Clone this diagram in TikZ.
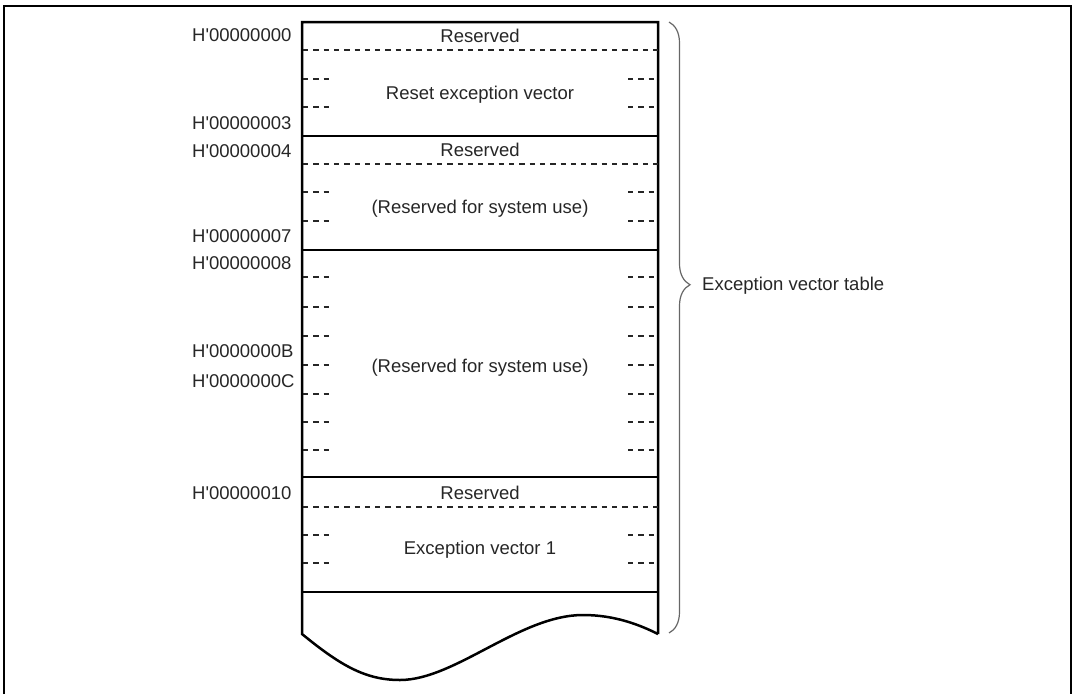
\documentclass[tikz,border=0pt]{standalone}
\usepackage{fontspec}
\setmainfont{Liberation Sans}[Ligatures=TeXOff]
\usetikzlibrary{decorations.pathreplacing}
\begin{document}
\begin{tikzpicture}[x=1pt,y=-1pt,
  txt/.style={font=\fontsize{18.5}{22}\selectfont, text=black!85, inner sep=0pt, text height=13pt, text depth=0pt},
  addr/.style={txt, anchor=west},
  cell/.style={txt, anchor=center},
  boxline/.style={line width=2.5pt, line join=miter, line cap=rect},
  fulldash/.style={line width=1.2pt, black!85, dash pattern=on 5.3pt off 5pt},
  bracestyle/.style={line width=1.2pt, black!60, decorate, decoration={brace, amplitude=21pt, aspect=0.43}}
]
\useasboundingbox (0,0) rectangle (1074,694);
% outer frame
\draw[line width=2pt] (3.5,694) -- (3.5,5.5) -- (1070.5,5.5) -- (1070.5,694);

% memory box outline with torn bottom
\draw[boxline, line cap=butt] (658,634) -- (658,22) -- (302,22) -- (302,634)
  .. controls (340,665) and (365,680) .. (400,680)
  .. controls (455,680) and (520,615) .. (583,615)
  .. controls (615,615) and (640,625) .. (658,634);

% solid separators
\foreach \y in {136,250,477,592}
  \draw[boxline, line cap=butt] (302,\y) -- (658,\y);

% full dashed separators
\foreach \y in {50,164,507}
  \draw[fulldash] (303,\y) -- (658,\y);

% short dashes at both sides
\foreach \y in {79,107,192,221,277,307,336,365,394,422,450,535,563} {
  \draw[fulldash] (303,\y) -- (330,\y);
  \draw[fulldash] (628,\y) -- (657,\y);
}

% cell texts
\node[cell] (r0) at (480,36) {Reserved};
\node[cell] (rv) at (480,93) {Reset exception vector};
\node[cell] (r1) at (480,150) {Reserved};
\node[cell] (s1) at (480,207) {(Reserved for system use)};
\node[cell] (s2) at (480,366) {(Reserved for system use)};
\node[cell] (r2) at (480,493) {Reserved};
\node[cell] (ev) at (480,548) {Exception vector 1};

% addresses
\node[addr] (a0) at (192,35) {H'00000000};
\node[addr] (a3) at (192,123) {H'00000003};
\node[addr] (a4) at (192,151) {H'00000004};
\node[addr] (a7) at (192,236) {H'00000007};
\node[addr] (a8) at (192,263) {H'00000008};
\node[addr] (aB) at (192,351) {H'0000000B};
\node[addr] (aC) at (192,381) {H'0000000C};
\node[addr] (a10) at (192,493) {H'00000010};

% brace
\coordinate (bt) at (669,22);
\coordinate (bb) at (669,633);
\draw[bracestyle] (bt) -- (bb);
\node[addr] (evt) at (702,284) {Exception vector table};
\end{tikzpicture}
\end{document}
